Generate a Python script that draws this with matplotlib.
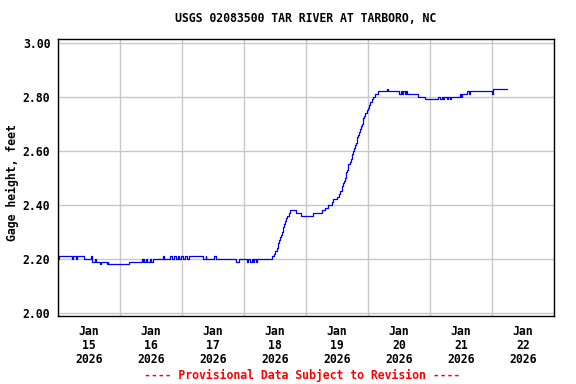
import matplotlib
matplotlib.use("Agg")
import matplotlib.pyplot as plt

hours = [0.0, 0.3, 5.5, 5.9, 6.8, 7.4, 10.2, 12.8, 13.2, 14.3, 14.6, 16.3, 16.6,
         18.9, 19.2, 19.5, 20.0, 27.6, 32.4, 32.8, 33.0, 33.4, 33.9, 34.3, 35.5,
         35.9, 36.7, 40.8, 41.2, 43.4, 44.1, 45.0, 45.5, 46.3, 47.0, 47.8, 48.3,
         49.2, 49.8, 50.6, 51.1, 56.2, 57.1, 57.4, 60.4, 61.2, 68.9, 70.1, 73.0,
         73.7, 74.3, 75.0, 75.4, 75.9, 76.6, 77.0,
         83.0, 83.6, 84.0, 84.7, 85.0, 85.3, 85.7, 86.1, 86.3, 86.7, 87.0, 87.2,
         87.6, 88.0, 88.3, 88.8, 89.3, 89.9, 92.2, 94.1, 98.6, 102.3, 103.5,
         104.6, 106.0, 106.6, 107.9, 108.6, 109.2, 109.8, 110.1, 110.4, 110.8,
         111.1, 111.3, 111.5, 111.8, 112.1, 112.4, 113.0, 113.3, 113.7, 114.0,
         114.3, 114.6, 115.0, 115.3, 115.6, 115.9, 116.2, 116.6, 116.9, 117.2,
         117.5, 117.9, 118.2, 118.6, 119.0, 119.5, 119.9, 120.3, 120.8, 121.4,
         122.1, 122.7, 124.0, 127.5, 127.9,
         132.1, 132.8, 133.0, 133.7, 134.3, 134.9, 135.1, 139.4, 142.1, 147.2,
         147.9, 148.5, 148.9, 149.5, 150.5, 150.9, 151.7, 152.1, 155.6, 156.0,
         156.3, 158.4, 159.1, 159.5, 168.1, 168.5, 173.7]
stage = [2.20, 2.21, 2.20, 2.21, 2.20, 2.21, 2.20, 2.21, 2.19, 2.20, 2.19, 2.18, 2.19,
         2.18, 2.19, 2.18, 2.18, 2.19, 2.20, 2.19, 2.20, 2.19, 2.20, 2.19, 2.20,
         2.19, 2.20, 2.21, 2.20, 2.21, 2.20, 2.21, 2.20, 2.21, 2.20, 2.21, 2.20,
         2.21, 2.20, 2.21, 2.21, 2.20, 2.21, 2.20, 2.21, 2.20, 2.19, 2.20, 2.19,
         2.20, 2.19, 2.20, 2.19, 2.20, 2.19, 2.20,
         2.21, 2.22, 2.23, 2.24, 2.25, 2.26, 2.27, 2.28, 2.29, 2.30, 2.31, 2.32,
         2.33, 2.34, 2.35, 2.36, 2.37, 2.38, 2.37, 2.36, 2.37, 2.38, 2.39,
         2.40, 2.41, 2.42, 2.43, 2.44, 2.45, 2.46, 2.47, 2.48, 2.49,
         2.50, 2.51, 2.52, 2.53, 2.54, 2.55, 2.56, 2.57, 2.58, 2.59,
         2.60, 2.61, 2.62, 2.63, 2.64, 2.65, 2.66, 2.67, 2.68, 2.69,
         2.70, 2.71, 2.72, 2.73, 2.74, 2.75, 2.76, 2.77, 2.78, 2.79,
         2.80, 2.81, 2.82, 2.83, 2.82,
         2.81, 2.82, 2.81, 2.82, 2.81, 2.82, 2.81, 2.80, 2.79, 2.80,
         2.79, 2.80, 2.79, 2.80, 2.79, 2.80, 2.79, 2.80, 2.81, 2.80,
         2.81, 2.82, 2.81, 2.82, 2.81, 2.83, 2.83]

day_labels = ["Jan\n15\n2026", "Jan\n16\n2026", "Jan\n17\n2026", "Jan\n18\n2026",
              "Jan\n19\n2026", "Jan\n20\n2026", "Jan\n21\n2026", "Jan\n22\n2026"]
y_ticks = [2.00, 2.20, 2.40, 2.60, 2.80, 3.00]

title = "USGS 02083500 TAR RIVER AT TARBORO, NC"
ylabel = "Gage height, feet"
note = "---- Provisional Data Subject to Revision ----"

plt.rcParams['font.family'] = 'DejaVu Sans Mono'
plt.rcParams['font.weight'] = 'bold'
plt.rcParams['font.size'] = 8.3

fig = plt.figure(figsize=(5.76, 3.84), dpi=100)
ax = fig.add_axes([58/576, 1-316/384, 496/576, 277/384])

ax.plot(hours, stage, drawstyle='steps-post', color='#0000ff', lw=0.9)

ax.set_xlim(0, 192)
ax.set_ylim(1.989, 3.0135)

# day boundaries carry the grid, noon ticks carry the labels
ax.set_xticks([24 * i for i in range(9)])
ax.set_xticklabels([])
ax.set_xticks([24 * i + 12 for i in range(8)], minor=True)
ax.set_xticklabels(day_labels, minor=True, fontweight='bold', linespacing=1.08)
ax.set_yticks(y_ticks)
ax.set_yticklabels(["%.2f" % v for v in y_ticks], fontweight='bold')

ax.tick_params(axis='both', which='both', length=0)
ax.tick_params(axis='x', which='minor', pad=6.5)
ax.tick_params(axis='y', pad=5.5)
ax.grid(True, which='major', color='#c8c8c8', lw=1)
ax.set_axisbelow(True)
for s in ax.spines.values():
    s.set_linewidth(1)
    s.set_color('black')

fig.text(306/576, 1-19/384, title, ha='center', va='center', fontweight='bold')
fig.text(12/576, 1-183/384, ylabel, ha='center', va='center', rotation=90,
         fontweight='bold')
fig.text(302/576, 1-375/384, note, ha='center', va='center', color='red',
         fontweight='bold')

fig.savefig("out.png", dpi=100)
